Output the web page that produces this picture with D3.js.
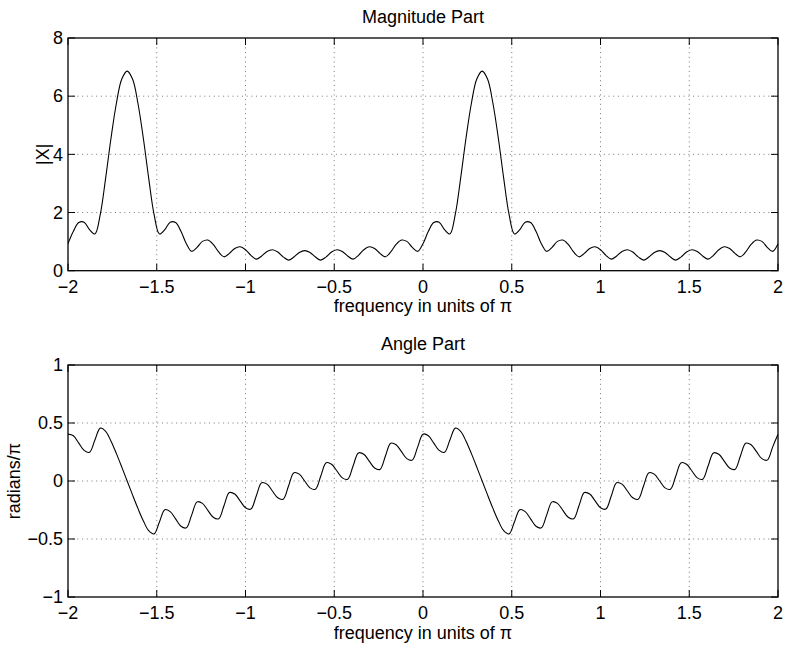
<!DOCTYPE html>
<html><head><meta charset="utf-8">
<script src="https://cdn.jsdelivr.net/npm/d3@7"></script>
<style>
body{margin:0;background:#fff}
svg{display:block}
text{font-family:"Liberation Sans",Arial,Helvetica,sans-serif;fill:#000}
</style></head><body>
<svg id="chart" width="788" height="645"></svg>
<script>
// |X(e^jw)| sampled every 1/33 (units of pi) from -2 to 2
const magnitude = [
0.930,1.357,1.654,1.667,1.412,1.262,1.936,3.185,4.563,5.757,6.588,6.862,6.588,5.757,4.563,3.185,1.936,1.262,1.412,1.667,1.654,1.357,0.930,
0.666,0.803,1.009,1.054,0.904,0.645,0.477,0.594,0.766,0.821,0.721,0.525,0.397,0.503,0.661,0.721,0.643,0.476,0.365,0.469,0.626,0.691,
0.626,0.469,0.365,0.476,0.643,0.721,0.661,0.503,0.397,0.525,0.721,0.821,0.766,0.594,0.477,0.645,0.904,1.054,1.009,0.803,0.666,
0.930,1.357,1.654,1.667,1.412,1.262,1.936,3.185,4.563,5.757,6.588,6.862,6.588,5.757,4.563,3.185,1.936,1.262,1.412,1.667,1.654,1.357,0.930,
0.666,0.803,1.009,1.054,0.904,0.645,0.477,0.594,0.766,0.821,0.721,0.525,0.397,0.503,0.661,0.721,0.643,0.476,0.365,0.469,0.626,0.691,
0.626,0.469,0.365,0.476,0.643,0.721,0.661,0.503,0.397,0.525,0.721,0.821,0.766,0.594,0.477,0.645,0.904,1.054,1.009,0.803,0.666,0.930
];
// angle of X in units of pi, same sampling
const angle = [
0.404,0.390,0.327,0.264,0.247,0.353,0.456,0.428,0.343,0.236,0.120,0,-0.120,-0.236,-0.343,-0.428,-0.456,-0.353,-0.247,-0.264,-0.327,-0.390,-0.404,
-0.292,-0.180,-0.193,-0.253,-0.313,-0.326,-0.213,-0.100,-0.112,-0.171,-0.230,-0.242,-0.129,-0.015,-0.027,-0.086,-0.145,-0.157,-0.043,0.071,0.059,0,
-0.059,-0.071,0.043,0.157,0.145,0.086,0.027,0.015,0.129,0.242,0.230,0.171,0.112,0.100,0.213,0.326,0.313,0.253,0.193,0.180,0.292,
0.404,0.390,0.327,0.264,0.247,0.353,0.456,0.428,0.343,0.236,0.120,0,-0.120,-0.236,-0.343,-0.428,-0.456,-0.353,-0.247,-0.264,-0.327,-0.390,-0.404,
-0.292,-0.180,-0.193,-0.253,-0.313,-0.326,-0.213,-0.100,-0.112,-0.171,-0.230,-0.242,-0.129,-0.015,-0.027,-0.086,-0.145,-0.157,-0.043,0.071,0.059,0,
-0.059,-0.071,0.043,0.157,0.145,0.086,0.027,0.015,0.129,0.242,0.230,0.171,0.112,0.100,0.213,0.326,0.313,0.253,0.193,0.180,0.292,0.404
];
const frequency = d3.range(magnitude.length).map(i => -2 + i / 33);
const xTicks = [-2, -1.5, -1, -0.5, 0, 0.5, 1, 1.5, 2];
const magTicks = [0, 2, 4, 6, 8];
const angleTicks = [-1, -0.5, 0, 0.5, 1];
const titles = ["Magnitude Part", "Angle Part"];
const xLabelText = "frequency in units of π";
const yLabels = ["|X|", "radians/π"];

const svg = d3.select("#chart");
const FS = 18;
const L = 68, R = 778;
const fmt = d => String(d).replace("-", "\u2212");

const panels = [
  {top: 38, bottom: 270.7, domain: [0, 8], ticks: magTicks, values: magnitude, title: titles[0], ylab: yLabels[0], ylabX: 49},
  {top: 365, bottom: 597, domain: [-1, 1], ticks: angleTicks, values: angle, title: titles[1], ylab: yLabels[1], ylabX: 20}
];

panels.forEach((p, idx) => {
  const x = d3.scaleLinear().domain([-2, 2]).range([L, R]);
  const y = d3.scaleLinear().domain(p.domain).range([p.bottom, p.top]);
  const g = svg.append("g");

  g.append("rect").attr("x", L).attr("y", p.top).attr("width", R - L).attr("height", p.bottom - p.top).attr("fill", "#fff");

  // grid
  g.selectAll(".vg").data(xTicks.slice(1, -1)).join("line")
    .attr("x1", d => x(d)).attr("x2", d => x(d)).attr("y1", p.top).attr("y2", p.bottom)
    .attr("stroke", "#555").attr("stroke-width", 0.8).attr("stroke-dasharray", "1,3.7");
  g.selectAll(".hg").data(p.ticks.slice(1, -1)).join("line")
    .attr("x1", L).attr("x2", R).attr("y1", d => y(d)).attr("y2", d => y(d))
    .attr("stroke", "#555").attr("stroke-width", 0.8).attr("stroke-dasharray", "1,3.7");

  // clip + curve
  const cid = "clip" + idx;
  svg.append("clipPath").attr("id", cid).append("rect")
    .attr("x", L).attr("y", p.top).attr("width", R - L).attr("height", p.bottom - p.top);
  const line = d3.line().x((d, i) => x(frequency[i])).y(d => y(d)).curve(d3.curveCatmullRom.alpha(0.5));
  g.append("path").datum(p.values).attr("d", line).attr("fill", "none")
    .attr("stroke", "#000").attr("stroke-width", 1.1).attr("clip-path", `url(#${cid})`);

  // box
  g.append("rect").attr("x", L).attr("y", p.top).attr("width", R - L).attr("height", p.bottom - p.top)
    .attr("fill", "none").attr("stroke", "#000").attr("stroke-width", 1.3);

  // ticks (inside, all four sides)
  const TL = 7;
  xTicks.forEach(t => {
    g.append("line").attr("x1", x(t)).attr("x2", x(t)).attr("y1", p.bottom).attr("y2", p.bottom - TL).attr("stroke", "#000").attr("stroke-width", 1);
    g.append("line").attr("x1", x(t)).attr("x2", x(t)).attr("y1", p.top).attr("y2", p.top + TL).attr("stroke", "#000").attr("stroke-width", 1);
  });
  p.ticks.forEach(t => {
    g.append("line").attr("x1", L).attr("x2", L + TL).attr("y1", y(t)).attr("y2", y(t)).attr("stroke", "#000").attr("stroke-width", 1);
    g.append("line").attr("x1", R).attr("x2", R - TL).attr("y1", y(t)).attr("y2", y(t)).attr("stroke", "#000").attr("stroke-width", 1);
  });

  // tick labels
  g.selectAll(".xl").data(xTicks).join("text")
    .attr("x", d => x(d)).attr("y", p.bottom + 22).attr("text-anchor", "middle")
    .attr("font-size", FS).text(fmt);
  g.selectAll(".yl").data(p.ticks).join("text")
    .attr("x", L - 5).attr("y", d => y(d)).attr("dy", "0.35em").attr("text-anchor", "end")
    .attr("font-size", FS).text(fmt);

  // title, labels
  g.append("text").attr("x", (L + R) / 2).attr("y", p.top - 15.3).attr("text-anchor", "middle")
    .attr("font-size", FS).text(p.title);
  g.append("text").attr("x", (L + R) / 2).attr("y", p.bottom + 41.5).attr("text-anchor", "middle")
    .attr("font-size", FS).text(xLabelText);
  g.append("text").attr("transform", `translate(${p.ylabX},${(p.top + p.bottom) / 2}) rotate(-90)`)
    .attr("text-anchor", "middle").attr("font-size", FS).text(p.ylab);
});
</script></body></html>
